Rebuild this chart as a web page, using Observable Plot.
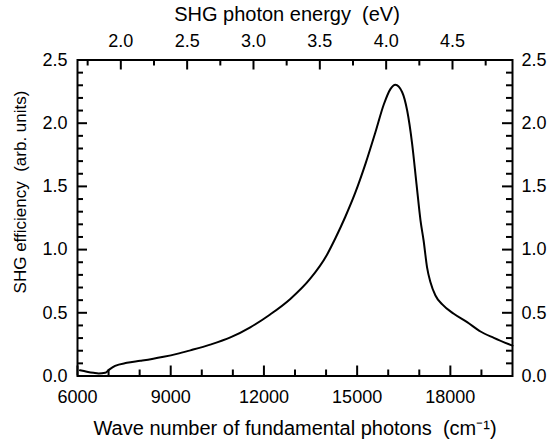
<!DOCTYPE html>
<html>
<head>
<meta charset="utf-8">
<script src="https://cdn.jsdelivr.net/npm/d3@7"></script>
<script src="https://cdn.jsdelivr.net/npm/@observablehq/plot@0.6"></script>
<style>
  html, body { margin: 0; padding: 0; background: #fff; }
  #chart svg { display: block; }
</style>
</head>
<body>
<div id="chart"></div>
<script>
// Data
const wavenumber = [6080, 6300, 6515, 6680, 6890, 7020, 7210, 7590, 8020, 8400, 8770, 9200, 9630, 10270, 10920, 11560, 12200, 12850, 13490, 14030, 14300, 14620, 14940, 15270, 15590, 15860, 16070, 16230, 16450, 16610, 16770, 16910, 17040, 17140, 17250, 17360, 17520, 17740, 18110, 18540, 18970, 19400, 20000];
const efficiency = [0.045, 0.034, 0.025, 0.02, 0.025, 0.05, 0.08, 0.104, 0.12, 0.135, 0.152, 0.175, 0.203, 0.248, 0.305, 0.385, 0.487, 0.61, 0.77, 0.96, 1.09, 1.26, 1.45, 1.68, 1.93, 2.15, 2.27, 2.304, 2.245, 2.10, 1.837, 1.52, 1.23, 1.07, 0.86, 0.742, 0.637, 0.566, 0.492, 0.426, 0.352, 0.302, 0.24];

// Tick values
const xMajorTicks = [6000, 9000, 12000, 15000, 18000];
const xMinorTicks = [7000, 8000, 10000, 11000, 13000, 14000, 16000, 17000, 19000];
const yMajorTicks = [0.0, 0.5, 1.0, 1.5, 2.0, 2.5];
const yMinorTicks = [0.1, 0.2, 0.3, 0.4, 0.6, 0.7, 0.8, 0.9, 1.1, 1.2, 1.3, 1.4, 1.6, 1.7, 1.8, 1.9, 2.1, 2.2, 2.3, 2.4];
const energyMajorTicks = [2.0, 2.5, 3.0, 3.5, 4.0, 4.5];
const energyMinorTicks = [1.75, 2.25, 2.75, 3.25, 3.75, 4.25, 4.75];
// Top-axis calibration: SHG energy (eV) -> wave number (cm^-1)
const energyRef = [2.0, 4.5];
const wavenumberRef = [7394, 18069];

// Labels
const xLabel = "Wave number of fundamental photons  (cm\u207B\u00B9)";
const yLabel = "SHG efficiency  (arb. units)";
const topLabel = "SHG photon energy  (eV)";

const energyToNu = d3.scaleLinear(energyRef, wavenumberRef);

const W = 551, H = 447;
const mt = 59.5, mb = 71.5, ml = 77, mr = 39;
const ph = H - mt - mb, pw = W - ml - mr;
const major = 10, minor = 6;
const font = "'Liberation Sans', Arial, Helvetica, sans-serif";
const fs = 18;     // tick labels
const ft = 20;     // axis titles
const fy = 17;     // y title

const chart = Plot.plot({
  width: W,
  height: H,
  marginTop: mt,
  marginBottom: mb,
  marginLeft: ml,
  marginRight: mr,
  style: {fontFamily: font, fontSize: fs + "px", color: "black", background: "white"},
  x: {domain: [6000, 20000], axis: null},
  y: {domain: [0, 2.5], axis: null},
  marks: [
    // bottom ticks (inward)
    Plot.ruleX(xMajorTicks, {insetTop: ph - major, strokeWidth: 2}),
    Plot.ruleX(xMinorTicks, {insetTop: ph - minor, strokeWidth: 2}),
    // top ticks (inward)
    Plot.ruleX(energyMajorTicks, {x: d => energyToNu(d), insetBottom: ph - major, strokeWidth: 2}),
    Plot.ruleX(energyMinorTicks, {x: d => energyToNu(d), insetBottom: ph - minor, strokeWidth: 2}),
    // left ticks
    Plot.ruleY(yMajorTicks, {insetRight: pw - major, strokeWidth: 2}),
    Plot.ruleY(yMinorTicks, {insetRight: pw - minor, strokeWidth: 2}),
    // right ticks
    Plot.ruleY(yMajorTicks, {insetLeft: pw - major, strokeWidth: 2}),
    Plot.ruleY(yMinorTicks, {insetLeft: pw - minor, strokeWidth: 2}),
    Plot.frame({strokeWidth: 2}),
    // curve
    Plot.line(wavenumber, {x: wavenumber, y: efficiency, curve: "monotone-x", strokeWidth: 2, stroke: "black"}),
    // bottom tick labels
    Plot.text(xMajorTicks, {x: d => d, text: d => String(d), frameAnchor: "bottom", lineAnchor: "middle", dy: 21, fontSize: fs, fill: "black"}),
    // top tick labels
    Plot.text(energyMajorTicks, {x: d => energyToNu(d), text: d => d.toFixed(1), frameAnchor: "top", lineAnchor: "middle", dy: -19, fontSize: fs, fill: "black"}),
    // left tick labels
    Plot.text(yMajorTicks, {y: d => d, text: d => d.toFixed(1), frameAnchor: "left", textAnchor: "end", lineAnchor: "middle", dx: -10, fontSize: fs, fill: "black"}),
    // right tick labels
    Plot.text(yMajorTicks, {y: d => d, text: d => d.toFixed(1), frameAnchor: "right", textAnchor: "start", lineAnchor: "middle", dx: 9, fontSize: fs, fill: "black"}),
    // axis titles
    Plot.text([xLabel], {frameAnchor: "bottom", lineAnchor: "middle", textAnchor: "middle", dy: 52.5, fontSize: ft, fill: "black"}),
    Plot.text([topLabel], {frameAnchor: "top", lineAnchor: "middle", textAnchor: "middle", dy: -45, dx: -8, fontSize: ft, fill: "black"}),
    Plot.text([yLabel], {frameAnchor: "left", rotate: -90, textAnchor: "middle", lineAnchor: "middle", dx: -57, dy: -26, fontSize: fy, fill: "black"})
  ]
});
document.getElementById("chart").appendChild(chart);
</script>
</body>
</html>
